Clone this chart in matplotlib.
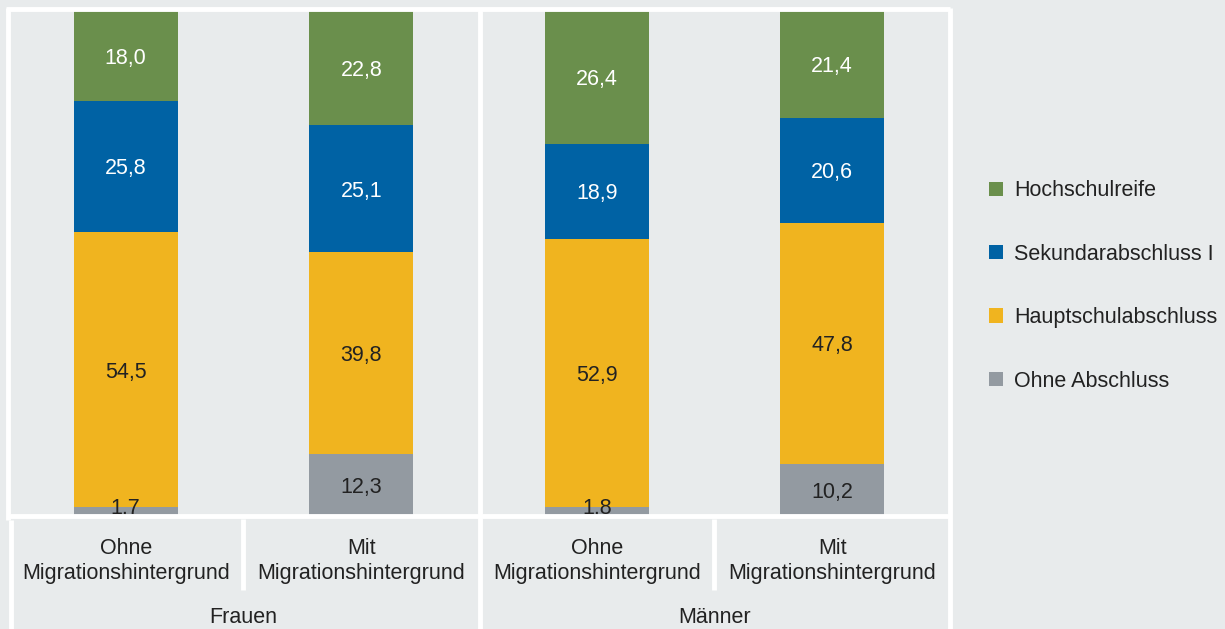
import numpy as np
import matplotlib.pyplot as plt
from matplotlib.patches import Patch
from matplotlib.lines import Line2D

plt.rcParams['font.family'] = ['Liberation Sans', 'DejaVu Sans']

# data (percent)
categories = ["Ohne\nMigrationshintergrund", "Mit\nMigrationshintergrund",
              "Ohne\nMigrationshintergrund", "Mit\nMigrationshintergrund"]
groups = ["Frauen", "Männer"]
ohne_abschluss = [1.7, 12.3, 1.8, 10.2]
hauptschul = [54.5, 39.8, 52.9, 47.8]
sekundar = [25.8, 25.1, 18.9, 20.6]
hochschul = [18.0, 22.8, 26.4, 21.4]

series = [
    ("Ohne Abschluss", ohne_abschluss, "#939aa1", "#222222"),
    ("Hauptschulabschluss", hauptschul, "#f0b41f", "#222222"),
    ("Sekundarabschluss I", sekundar, "#0062a4", "white"),
    ("Hochschulreife", hochschul, "#6a8f4c", "white"),
]

bg = "#e8ebec"
fs = 15.5
W, H = 1225, 629
fig = plt.figure(figsize=(W / 100, H / 100), dpi=100, facecolor=bg)
ax = fig.add_axes([8 / W, 1 - 516 / H, 942 / W, 506 / H])
ax.set_facecolor(bg)

x = np.arange(len(categories))
bottom = np.zeros(len(categories))
for name, vals, col, tcol in series:
    vals = np.array(vals)
    ax.bar(x, vals, width=0.44, bottom=bottom, color=col, linewidth=0)
    for xi, b, v in zip(x, bottom, vals):
        ax.text(xi, b + v / 2 + (1.1 if v < 3 else 0), f"{v:.1f}".replace(".", ","),
                ha="center", va="center_baseline", fontsize=fs, color=tcol)
    bottom += vals

ax.set_xlim(-0.5, 3.5)
ax.set_ylim(0, 100)
ax.set_xticks([])
ax.set_yticks([])
for s in ax.spines.values():
    s.set_visible(False)

# category and group labels
tr = ax.get_xaxis_transform()
for xi, lab in zip(x, categories):
    ax.text(xi, -0.089, lab, transform=tr, ha="center", va="center",
            fontsize=fs, color="#222222", linespacing=1.3)
for gi, g in enumerate(groups):
    ax.text(gi * 2 + 0.5, -0.201, g, transform=tr, ha="center", va="center",
            fontsize=fs, color="#222222")

# white table grid
lw = 3.5
def px(xp, yp):
    return xp / W, 1 - yp / H

lines = [
    ((6, 9), (950, 9)),
    ((8, 8), (8, 520)),
    ((950, 8), (950, 629)),
    ((480, 8), (480, 629)),
    ((8, 516), (950, 516)),
    ((11, 520), (11, 629)),
    ((243, 519), (243, 590)),
    ((714, 519), (714, 590)),
]
for (x0, y0), (x1, y1) in lines:
    a, b = px(x0, y0)
    c, d = px(x1, y1)
    fig.add_artist(Line2D([a, c], [b, d], color="white", lw=lw,
                          solid_capstyle="butt"))

# legend
handles = [Patch(facecolor=col, label=name) for name, _, col, _ in series[::-1]]
fig.legend(handles=handles, loc="center left", bbox_to_anchor=(970 / W, 1 - 286 / H),
           frameon=False, fontsize=fs, handlelength=0.65, handleheight=0.65,
           handletextpad=0.5, labelspacing=1.97, labelcolor="#222222")

fig.savefig("out.png", dpi=100, facecolor=bg)
